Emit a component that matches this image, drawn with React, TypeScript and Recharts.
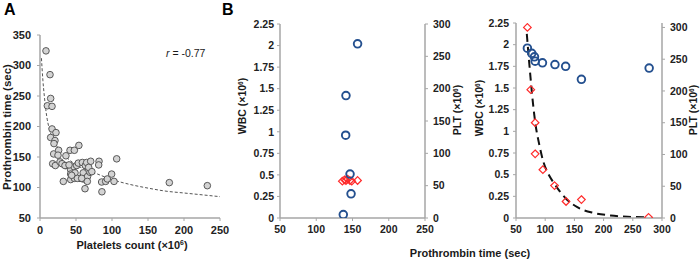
import React from 'react';
import { ComposedChart, Scatter, Line, XAxis, YAxis } from 'recharts';

const FONT = '"Liberation Sans", Arial, Helvetica, sans-serif';

// ---------- Panel A ----------
const aPlatelets = [8.3, 13.9, 14.8, 10.2, 16.7, 16.7, 14.8, 22.2, 20.8, 19.4, 19, 17.6, 21.3, 25.9, 25, 27.8, 30.6, 32.4, 36, 36, 41.7, 47.7, 54, 39.8, 42.6, 42.6, 42.6, 47.2, 48.6, 50.9, 53.2, 58.8, 63, 64.8, 70.4, 60, 55.6, 60, 66, 69.4, 67.6, 62.5, 47.7, 51.9, 82, 81.5, 85.6, 86, 91.2, 93.5, 99.5, 102.8, 106.5, 179.6, 232.4, 44, 57.9, 72, 65.7, 34.7, 40.3];
const aProthrombin = [324, 285, 246, 234, 233, 196, 182, 190, 177, 172, 155, 139, 136, 161, 153, 142, 139, 110, 136, 152, 161, 161, 169, 136, 129, 122, 113, 134, 124, 136, 140, 141, 136, 141, 143, 124, 115, 114, 118, 125, 133, 98, 115, 115, 143, 137, 109, 93, 110, 114, 122, 110, 147, 108, 103, 120, 115, 126, 110, 136, 137];
const aTrendX = [2, 4, 6, 8, 10, 14, 20, 30, 40, 55, 80, 100, 125, 150, 175, 200, 225, 250];
const aTrendY = [312, 276, 250, 228, 212, 192, 175, 158, 146, 134, 122, 113, 105, 99, 94, 91, 88, 85];
const aXTicks = [0, 50, 100, 150, 200, 250];
const aYTicks = [50, 100, 150, 200, 250, 300, 350];

// ---------- Panel B (left) ----------
const bLeftWbcPt = [157, 141, 140.6, 146.6, 148, 137.3];
const bLeftWbc = [2.02, 1.42, 0.96, 0.51, 0.28, 0.04];
const bLeftPltPt = [136, 139, 141, 143.5, 146.5, 149, 157];
const bLeftPlt = [57, 59, 58, 60, 58, 57, 58];
const bLeftXTicks = [50, 100, 150, 200, 250];

// ---------- Panel B (right) ----------
const bRightWbcPt = [69.5, 77, 81.6, 82.8, 95.3, 116.7, 135, 162, 278];
const bRightWbc = [1.96, 1.9, 1.86, 1.81, 1.79, 1.77, 1.75, 1.6, 1.73];
const bRightPltPt = [69.5, 75.3, 82.8, 82.8, 96, 116, 135.7, 162, 277];
const bRightPlt = [300, 202, 150, 101, 76, 51, 26, 29, 1];
const bRightTrendX = [68.5, 71, 74, 78, 83, 90, 97, 105, 114, 125, 135, 155, 183, 212, 241, 270];
const bRightTrendY = [290, 262, 230, 190, 150, 115, 88, 70, 56, 42, 31, 17, 8, 4, 2, 1];
const bRightXTicks = [50, 100, 150, 200, 250, 300];

const wbcTicks = [0, 0.25, 0.5, 0.75, 1, 1.25, 1.5, 1.75, 2, 2.25];
const pltTicks = [0, 50, 100, 150, 200, 250, 300];

const zip = (xs: number[], ys: number[]) => xs.map((x, i) => ({ x, y: ys[i] }));

const aPoints = zip(aPlatelets, aProthrombin);
const aTrend = zip(aTrendX, aTrendY);
const bLeftWbcPts = zip(bLeftWbcPt, bLeftWbc);
const bLeftPltPts = zip(bLeftPltPt, bLeftPlt);
const bRightWbcPts = zip(bRightWbcPt, bRightWbc);
const bRightPltPts = zip(bRightPltPt, bRightPlt);
const bRightTrend = zip(bRightTrendX, bRightTrendY);

const AXIS_COLOR = '#a6a6a6';
const tickStyleA = { fontSize: 11, fontWeight: 700, fill: '#222222', fontFamily: FONT };
const tickStyle = { fontSize: 10.5, fontWeight: 700, fill: '#222222', fontFamily: FONT };
const axisLine = { stroke: AXIS_COLOR, strokeWidth: 1.5 };
const tickLine = { stroke: AXIS_COLOR, strokeWidth: 1 };

const GrayDot = (p: any) => (
  <circle cx={p.cx} cy={p.cy} r={3.3} fill="#d3d3d3" stroke="#4a4a4a" strokeWidth={0.9} />
);
const BlueRing = (p: any) => (
  <circle cx={p.cx} cy={p.cy} r={3.8} fill="none" stroke="#24508f" strokeWidth={1.9} />
);
const RedDiamond = (p: any) => {
  const s = 3.8;
  return (
    <polygon
      points={`${p.cx},${p.cy - s} ${p.cx + s},${p.cy} ${p.cx},${p.cy + s} ${p.cx - s},${p.cy}`}
      fill="none"
      stroke="#ff2b2b"
      strokeWidth={1.2}
    />
  );
};

const Sup6 = () => (
  <sup style={{ fontSize: '0.62em', lineHeight: 0, verticalAlign: '0.45em' }}>6</sup>
);

const boxText = (
  cx: number,
  cy: number,
  size: number,
  content: React.ReactNode,
  rotate = false,
  weight: number = 700
) => (
  <div
    style={{
      position: 'absolute',
      left: cx,
      top: cy,
      transform: `translate(-50%, -50%)${rotate ? ' rotate(-90deg)' : ''}`,
      fontSize: size,
      fontWeight: weight,
      lineHeight: 1,
      whiteSpace: 'nowrap',
      color: '#1a1a1a',
      fontFamily: FONT,
    }}
  >
    {content}
  </div>
);

export default function App() {
  return (
    <div
      style={{
        position: 'absolute',
        left: 0,
        top: 0,
        width: 700,
        height: 260,
        background: '#ffffff',
        fontFamily: FONT,
        overflow: 'hidden',
      }}
    >
      {/* Panel A */}
      <div style={{ position: 'absolute', left: 0, top: 0 }}>
        <ComposedChart width={230} height={260} margin={{ top: 35, right: 10, bottom: 22, left: 10 }}>
          <XAxis
            type="number"
            dataKey="x"
            domain={[0, 250]}
            ticks={aXTicks}
            allowDataOverflow
            height={20}
            tick={tickStyleA}
            axisLine={axisLine}
            tickLine={tickLine}
            tickSize={3}
            tickMargin={5}
          />
          <YAxis
            type="number"
            dataKey="y"
            domain={[50, 350]}
            ticks={aYTicks}
            allowDataOverflow
            width={30}
            tick={tickStyleA}
            axisLine={axisLine}
            tickLine={tickLine}
            tickSize={3}
            tickMargin={6}
          />
          <Line
            data={aTrend}
            dataKey="y"
            type="monotone"
            stroke="#555555"
            strokeWidth={1}
            strokeDasharray="3 2"
            dot={false}
            activeDot={false}
            isAnimationActive={false}
          />
          <Scatter data={aPoints} dataKey="y" shape={GrayDot} isAnimationActive={false} />
        </ComposedChart>
      </div>

      {/* Panel B left */}
      <div style={{ position: 'absolute', left: 240, top: 0 }}>
        <ComposedChart width={230} height={260} margin={{ top: 24, right: 10, bottom: 22, left: 10 }}>
          <XAxis
            type="number"
            dataKey="x"
            xAxisId="x"
            domain={[50, 250]}
            ticks={bLeftXTicks}
            allowDataOverflow
            height={20}
            tick={tickStyle}
            axisLine={axisLine}
            tickLine={tickLine}
            tickSize={3}
            tickMargin={5}
          />
          <YAxis
            yAxisId="wbc"
            type="number"
            dataKey="y"
            domain={[0, 2.25]}
            ticks={wbcTicks}
            allowDataOverflow
            width={30}
            tick={tickStyle}
            axisLine={axisLine}
            tickLine={tickLine}
            tickSize={3}
            tickMargin={3}
          />
          <YAxis
            yAxisId="plt"
            orientation="right"
            type="number"
            dataKey="y"
            domain={[0, 300]}
            ticks={pltTicks}
            allowDataOverflow
            width={35}
            tick={tickStyle}
            axisLine={axisLine}
            tickLine={tickLine}
            tickSize={3}
            tickMargin={5}
          />
          <Scatter xAxisId="x" yAxisId="plt" data={bLeftPltPts} dataKey="y" shape={RedDiamond} isAnimationActive={false} />
          <Scatter xAxisId="x" yAxisId="wbc" data={bLeftWbcPts} dataKey="y" shape={BlueRing} isAnimationActive={false} />
        </ComposedChart>
      </div>

      {/* Panel B right */}
      <div style={{ position: 'absolute', left: 470, top: 0 }}>
        <ComposedChart width={230} height={260} margin={{ top: 23, right: 8, bottom: 22, left: 16 }}>
          <XAxis
            type="number"
            dataKey="x"
            xAxisId="x"
            domain={[50, 300]}
            ticks={bRightXTicks}
            allowDataOverflow
            height={20}
            tick={tickStyle}
            axisLine={axisLine}
            tickLine={tickLine}
            tickSize={3}
            tickMargin={5}
          />
          <YAxis
            yAxisId="wbc"
            type="number"
            dataKey="y"
            domain={[0, 2.25]}
            ticks={wbcTicks}
            allowDataOverflow
            width={30}
            tick={tickStyle}
            axisLine={axisLine}
            tickLine={tickLine}
            tickSize={3}
            tickMargin={4}
          />
          <YAxis
            yAxisId="plt"
            orientation="right"
            type="number"
            dataKey="y"
            domain={[0, 307]}
            ticks={pltTicks}
            allowDataOverflow
            width={30}
            tick={tickStyle}
            axisLine={axisLine}
            tickLine={tickLine}
            tickSize={3}
            tickMargin={5}
          />
          <Line
            xAxisId="x"
            yAxisId="plt"
            data={bRightTrend}
            dataKey="y"
            type="monotone"
            stroke="#111111"
            strokeWidth={2}
            strokeDasharray="8 5"
            dot={false}
            activeDot={false}
            isAnimationActive={false}
          />
          <Scatter xAxisId="x" yAxisId="plt" data={bRightPltPts} dataKey="y" shape={RedDiamond} isAnimationActive={false} />
          <Scatter xAxisId="x" yAxisId="wbc" data={bRightWbcPts} dataKey="y" shape={BlueRing} isAnimationActive={false} />
        </ComposedChart>
      </div>

      {/* Panel letters */}
      <div style={{ position: 'absolute', left: 4, top: 2, fontSize: 16, fontWeight: 700, lineHeight: 1, fontFamily: FONT }}>A</div>
      <div style={{ position: 'absolute', left: 222, top: 2, fontSize: 16, fontWeight: 700, lineHeight: 1, fontFamily: FONT }}>B</div>

      {/* Correlation */}
      <div style={{ position: 'absolute', left: 166, top: 53, transform: 'translateY(-50%)', fontSize: 10.5, lineHeight: 1, whiteSpace: 'nowrap', fontFamily: FONT, color: '#1a1a1a' }}>
        <i>r</i> = -0.77
      </div>

      {/* Axis titles */}
      {boxText(7.5, 127, 11.5, 'Prothrombin time (sec)', true)}
      {boxText(132, 245, 11, <>Platelets count (×10<Sup6 />)</>)}
      {boxText(242, 106, 10.5, <>WBC (×10<Sup6 />)</>, true)}
      {boxText(457, 110, 10.5, <>PLT (×10<Sup6 />)</>, true)}
      {boxText(479, 108, 10.5, <>WBC (×10<Sup6 />)</>, true)}
      {boxText(693, 110, 10.5, <>PLT (×10<Sup6 />)</>, true)}
      {boxText(470, 253, 11, 'Prothrombin time (sec)')}
    </div>
  );
}
